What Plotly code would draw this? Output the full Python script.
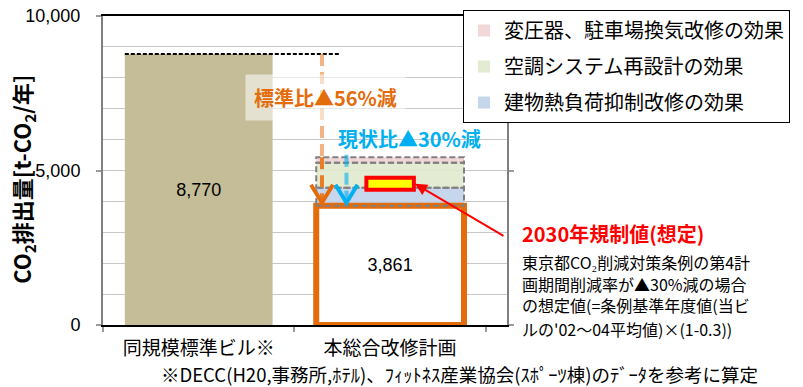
import plotly.graph_objects as go

# ---------------- data ----------------
categories = ["同規模標準ビル※", "本総合改修計画"]
co2_values = [8770, 3861]
effect_names = ["変圧器、駐車場換気改修の効果", "空調システム再設計の効果", "建物熱負荷抑制改修の効果"]
effect_values = [180, 810, 580]          # listed top -> bottom of the stack
regulation_2030 = 4570
y_tick_vals = [0, 5000, 10000]
note_lines = ["東京都CO₂削減対策条例の第4計",
              "画期間削減率が▲30%減の場合",
              "の想定値(=条例基準年度値(当ビ",
              "ルの'02～04平均値)×(1-0.3))"]

# ---------------- styles ----------------
TAN = "#C4BD97"
ORANGE = "#E46C0A"
SKY = "#00B0F0"
effect_fill = ["rgba(238,205,205,0.8)", "rgba(224,233,205,0.9)", "rgba(192,210,234,0.9)"]
JP = "Noto Sans CJK JP"
LAT = "Liberation Sans, Arial, sans-serif"
NOTE_Y = [262, 284, 305, 330]

W = 803
H = 387
PL, PR, PT, PB = 103, 507, 16, 325.5
BARGAP = 0.228
BW = 1 - BARGAP


def px(x):
    return (x - PL) / (PR - PL)


def py(y):
    return (PB - y) / (PB - PT)


fig = go.Figure()

# stacked effect bars (bottom of stack = last element)
bases = [0] * len(effect_values)
acc = co2_values[1]
for i in reversed(range(len(effect_values))):
    bases[i] = acc
    acc += effect_values[i]
current_total = acc

for i, name in enumerate(effect_names):
    fig.add_trace(go.Bar(
        x=[categories[1]], y=[effect_values[i]], base=[bases[i]],
        name=name, legendgroup=name,
        marker=dict(color=effect_fill[i], line=dict(width=0)),
        hoverinfo="skip",
    ))

# main bars
fig.add_trace(go.Bar(
    x=categories, y=co2_values, showlegend=False,
    marker=dict(color=[TAN, "white"], line=dict(color=[TAN, ORANGE], width=[0, 6])),
    text=[f"{v:,}" for v in co2_values], textposition="inside",
    insidetextanchor="middle", textangle=0,
    textfont=dict(family=LAT, size=18, color="black"),
))

shapes = []
# dashed outlines around the effect segments
for i in range(len(effect_values)):
    shapes.append(dict(type="rect", xref="x", yref="y",
                       x0=1 - BW / 2, x1=1 + BW / 2,
                       y0=bases[i], y1=bases[i] + effect_values[i],
                       line=dict(color="#808080", width=2, dash="6px,3px"),
                       fillcolor="rgba(0,0,0,0)", layer="above"))
# standard-building reference line
shapes.append(dict(type="line", xref="x", yref="y", x0=-BW / 2, x1=0.733,
                   y0=co2_values[0], y1=co2_values[0],
                   line=dict(color="black", width=2, dash="4px,2px"), layer="above"))

# orange arrow (standard -> plan)
ox = 1 - 0.356
shapes.append(dict(type="line", xref="x", yref="y", x0=ox, x1=ox,
                   y0=co2_values[0], y1=current_total,
                   line=dict(color="rgba(228,108,10,0.5)", width=4, dash="12px,6px"), layer="above"))
shapes.append(dict(type="line", xref="x", yref="y", x0=ox, x1=ox,
                   y0=current_total, y1=co2_values[1] + 100,
                   line=dict(color="rgb(232,125,40)", width=4, dash="12px,6px"), layer="above"))
shapes.append(dict(type="path", xref="x", yref="y", xsizemode="pixel", ysizemode="pixel",
                   xanchor=ox, yanchor=co2_values[1],
                   path="M-11,21 L0,3 L11,21",
                   line=dict(color=ORANGE, width=4), layer="above"))

# blue arrow (current -> plan)
bx = 1 - 0.228
shapes.append(dict(type="line", xref="x", yref="y", x0=bx, x1=bx,
                   y0=current_total + 80, y1=co2_values[1] + 100,
                   line=dict(color="rgba(0,176,240,0.6)", width=4, dash="12px,6px"), layer="above"))
shapes.append(dict(type="path", xref="x", yref="y", xsizemode="pixel", ysizemode="pixel",
                   xanchor=bx, yanchor=co2_values[1],
                   path="M-11,21 L0,3 L11,21",
                   line=dict(color=SKY, width=4), layer="above"))

# 2030 regulation marker
shapes.append(dict(type="rect", xref="x", yref="y", x0=1 - 0.124, x1=1 + 0.124,
                   ysizemode="pixel", yanchor=regulation_2030, y0=-6, y1=6,
                   fillcolor="#FFFF00", line=dict(color="#FF0000", width=4), layer="above"))

annotations = []
annotations.append(dict(xref="paper", yref="paper", x=px(23), y=py(180),
                        text="CO<sub>2</sub>排出量[t-CO<sub>2</sub>/年]", textangle=-90,
                        showarrow=False, font=dict(family=JP, size=22, color="black", weight="bold"),
                        xanchor="center", yanchor="middle"))
annotations.append(dict(xref="paper", yref="paper", x=px(325), y=py(98),
                        text="標準比▲56%減", showarrow=False,
                        font=dict(family=JP, size=20, color=ORANGE, weight="bold"),
                        bgcolor="rgba(255,255,255,0.55)", borderpad=8,
                        xanchor="center", yanchor="middle"))
annotations.append(dict(xref="paper", yref="paper", x=px(409), y=py(139),
                        text="現状比▲30%減", showarrow=False,
                        font=dict(family=JP, size=20, color=SKY, weight="bold"),
                        xanchor="center", yanchor="middle"))
annotations.append(dict(xref="x", yref="y", x=1.13, y=regulation_2030,
                        ax=90, ay=53, axref="pixel", ayref="pixel", text="",
                        showarrow=True, arrowhead=2, arrowsize=1.2, arrowwidth=2,
                        arrowcolor="#FF0000", standoff=0))
annotations.append(dict(xref="paper", yref="paper", x=px(520), y=py(234),
                        text="2030年規制値(想定)", showarrow=False,
                        font=dict(family=JP, size=20, color="#FF0000", weight="bold"),
                        xanchor="left", yanchor="middle"))
for k, line in enumerate(note_lines):
    annotations.append(dict(xref="paper", yref="paper", x=px(520), y=py(NOTE_Y[k]),
                            text=line, showarrow=False, align="left",
                            font=dict(family=JP, size=16, color="black"),
                            xanchor="left", yanchor="middle"))
annotations.append(dict(xref="paper", yref="paper", x=px(459), y=py(375),
                        text="※DECC(H20,事務所,ﾎﾃﾙ)、ﾌｨｯﾄﾈｽ産業協会(ｽﾎﾟｰﾂ棟)のﾃﾞｰﾀを参考に算定",
                        showarrow=False, font=dict(family=JP, size=18.5, color="black"),
                        xanchor="center", yanchor="middle"))

fig.update_layout(
    width=W, height=H,
    margin=dict(l=PL, r=W - PR, t=PT, b=H - PB, autoexpand=False),
    paper_bgcolor="white", plot_bgcolor="white",
    barmode="overlay", bargap=BARGAP,
    font=dict(family=JP, color="black"),
    shapes=shapes, annotations=annotations,
    legend=dict(x=px(463), y=py(10), xanchor="left", yanchor="top",
                bgcolor="white", bordercolor="black", borderwidth=1,
                font=dict(family=JP, size=20, color="black"),
                traceorder="grouped", tracegroupgap=7, itemwidth=30),
)
fig.update_xaxes(
    type="category", categoryorder="array", categoryarray=categories,
    showline=True, linecolor="black", linewidth=1.5, mirror=True,
    ticks="outside", tickson="boundaries", ticklen=5, tickcolor="#9A9A9A", tickwidth=2,
    tickfont=dict(family=JP, size=19, color="black"), ticklabelstandoff=5,
    showgrid=False, zeroline=False,
)
fig.update_yaxes(
    range=[0, 10000], tickvals=y_tick_vals, tickformat=",",
    showline=True, linecolor="#7F7F7F", linewidth=2, mirror="ticks",
    ticks="outside", ticklen=5, tickcolor="#9A9A9A", tickwidth=2,
    tickfont=dict(family=LAT, size=18, color="black"), ticklabelstandoff=12,
    showgrid=True, gridcolor="#C8C8C8", gridwidth=1, zeroline=False,
    minor=dict(dtick=1000, showgrid=True, gridcolor="#C8C8C8", gridwidth=1),
)

fig.write_html("out.html", config={"displayModeBar": False},
               post_script="document.body.style.margin='0';document.body.style.overflow='hidden';")
